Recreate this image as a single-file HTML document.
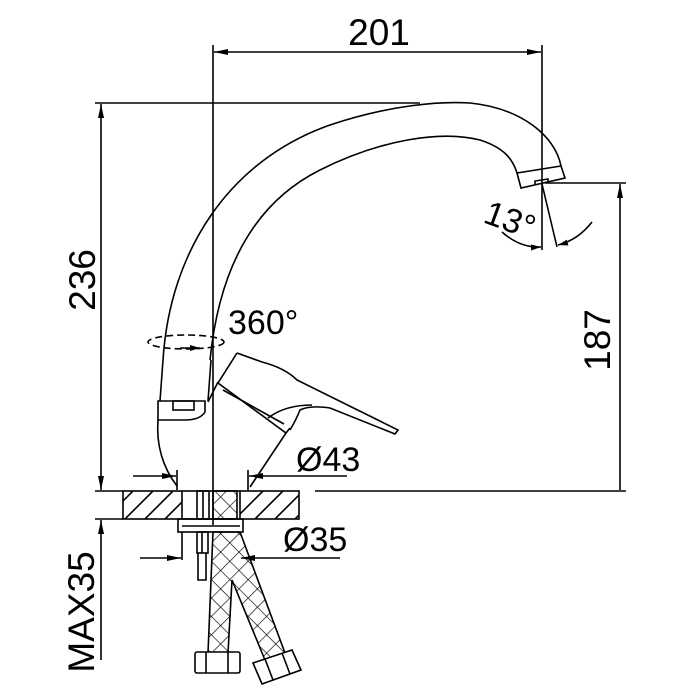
<!DOCTYPE html>
<html><head><meta charset="utf-8"><style>
html,body{margin:0;padding:0;background:#fff}
svg{display:block}
text{font-family:"Liberation Sans",sans-serif;fill:#000}
</style></head><body>
<svg width="700" height="700" viewBox="0 0 700 700" xmlns="http://www.w3.org/2000/svg">
<defs>
<pattern id="x" patternUnits="userSpaceOnUse" width="13" height="13" patternTransform="rotate(45)">
<line x1="0" y1="0" x2="0" y2="13" stroke="#000" stroke-width="1.3"/>
<line x1="0" y1="0" x2="13" y2="0" stroke="#000" stroke-width="1.3"/>
</pattern>
<clipPath id="c1"><rect x="123" y="491" width="59" height="28"/><rect x="240" y="491" width="59" height="28"/></clipPath>
<marker id="a" viewBox="0 0 10 6" refX="10" refY="3" markerWidth="10" markerHeight="6" markerUnits="userSpaceOnUse" orient="auto-start-reverse"><path d="M0,0L10,3L0,6Z" fill="#000"/></marker>
<marker id="b" viewBox="0 0 14 6" refX="14" refY="3" markerWidth="14" markerHeight="6" markerUnits="userSpaceOnUse" orient="auto-start-reverse"><path d="M0,0L14,3L0,6Z" fill="#000"/></marker>
</defs>
<g fill="none" stroke="#000" stroke-width="1.6">
<line x1="213" y1="45" x2="213" y2="525"/>
<line x1="542" y1="45" x2="542" y2="250"/>
<line x1="214" y1="52" x2="541" y2="52" marker-start="url(#b)" marker-end="url(#b)"/>
<line x1="95" y1="103" x2="420" y2="103"/>
<line x1="101" y1="104" x2="101" y2="490" marker-start="url(#b)" marker-end="url(#b)"/>
<line x1="545" y1="183" x2="626" y2="183"/>
<line x1="620" y1="184" x2="620" y2="490" marker-start="url(#b)"/>
<line x1="315" y1="491" x2="626" y2="491"/>
<line x1="95" y1="491" x2="123" y2="491"/>
<line x1="95" y1="519" x2="123" y2="519"/>
<line x1="101" y1="520" x2="101" y2="660" marker-start="url(#b)"/>
<path d="M163,360 C170,250 230,160 330,125 C390,105 440,101 470,103 C520,108 555,135 561,166"/>
<path d="M210,360 C220,260 260,200 320,170 C380,140 440,130 480,140 C505,148 513,160 517,173"/>
<path d="M517,173 L521,188 L565,178 L561,166 Z"/>
<path d="M535,184 L535,181 L548,179 L548,182"/>
<line x1="542" y1="184" x2="557" y2="247"/>
<path d="M502,232 Q520,248 541,247" marker-end="url(#a)"/>
<path d="M592,222 Q578,240 558,245" marker-end="url(#a)"/>
<ellipse cx="186" cy="342" rx="38" ry="7" stroke-dasharray="7,4"/>
<line x1="180" y1="348" x2="200" y2="348" marker-end="url(#a)"/>
<path d="M163,360 L160,401"/>
<path d="M211,360 L208,401"/>
<path d="M158,401 L205,401 L205,412 Q200,420 185,420 L158,420 Z"/>
<rect x="173" y="401" width="21" height="9"/>
<path d="M158,420 C156,445 163,468 177,486"/>
<path d="M286,433 L250,487"/>
<path d="M218,382 L208,402"/>
<path d="M237,353 L218,383 L286,433 L290,428"/>
<path d="M223,390 L284,424"/>
<path d="M237,353 L262,362 Q285,368 297,380 L398,430 L395,434 L330,408 Q310,405 300,410 Q296,420 290,430"/>
<path d="M268,418 Q285,405 312,405"/>
<line x1="133" y1="476" x2="176" y2="476" marker-end="url(#b)"/>
<line x1="347" y1="476" x2="249" y2="476" marker-end="url(#b)"/>
<line x1="177" y1="470" x2="177" y2="490"/>
<line x1="248" y1="470" x2="248" y2="490"/>
<rect x="123" y="491" width="176" height="28"/>
<g clip-path="url(#c1)">
<path d="M105,519 L133,491 M125,519 L153,491 M145,519 L173,491 M165,519 L193,491 M235,519 L263,491 M255,519 L283,491 M275,519 L303,491 M295,519 L323,491"/>
</g>
<line x1="182" y1="491" x2="182" y2="519"/>
<rect x="197" y="491" width="12" height="28"/>
<line x1="203" y1="491" x2="203" y2="519"/>
<rect x="213" y="491" width="24" height="28" fill="url(#x)"/>
<line x1="240" y1="491" x2="240" y2="519"/>
<rect x="178" y="519" width="65" height="13"/>
<line x1="182" y1="526" x2="240" y2="526"/>
<line x1="140" y1="558" x2="181" y2="558" marker-end="url(#b)"/>
<line x1="340" y1="558" x2="241" y2="558" marker-end="url(#b)"/>
<line x1="182" y1="532" x2="182" y2="560"/>
<rect x="197" y="532" width="11" height="21"/>
<line x1="202" y1="532" x2="202" y2="553"/>
<path d="M198,553 L198,580 L206,580 L206,553"/>
<path d="M213,532 L208,653 L228,653 L232,580 L265,660 L285,653 L240,532 Z" fill="url(#x)"/>
<rect x="195" y="652" width="45" height="21" rx="2" fill="#fff"/>
<line x1="206" y1="652" x2="206" y2="673"/>
<line x1="228" y1="652" x2="228" y2="673"/>
<path d="M253,663 L262,684 L301,670 L292,650 Z" fill="#fff"/>
<line x1="265" y1="659" x2="273" y2="680"/>
<line x1="282" y1="653" x2="290" y2="674"/>
</g>
<g font-size="37">
<text x="379" y="45" text-anchor="middle">201</text>
<text transform="translate(95,280) rotate(-90)" text-anchor="middle">236</text>
<text transform="translate(610,340) rotate(-90)" text-anchor="middle">187</text>
<text transform="translate(94,612) rotate(-90)" text-anchor="middle">MAX35</text>
</g>
<g font-size="34">
<text x="228" y="334">360°</text>
<text x="296" y="471">Ø43</text>
<text x="283" y="551">Ø35</text>
<text transform="translate(482,222) rotate(20)">13°</text>
</g>
</svg>
</body></html>
